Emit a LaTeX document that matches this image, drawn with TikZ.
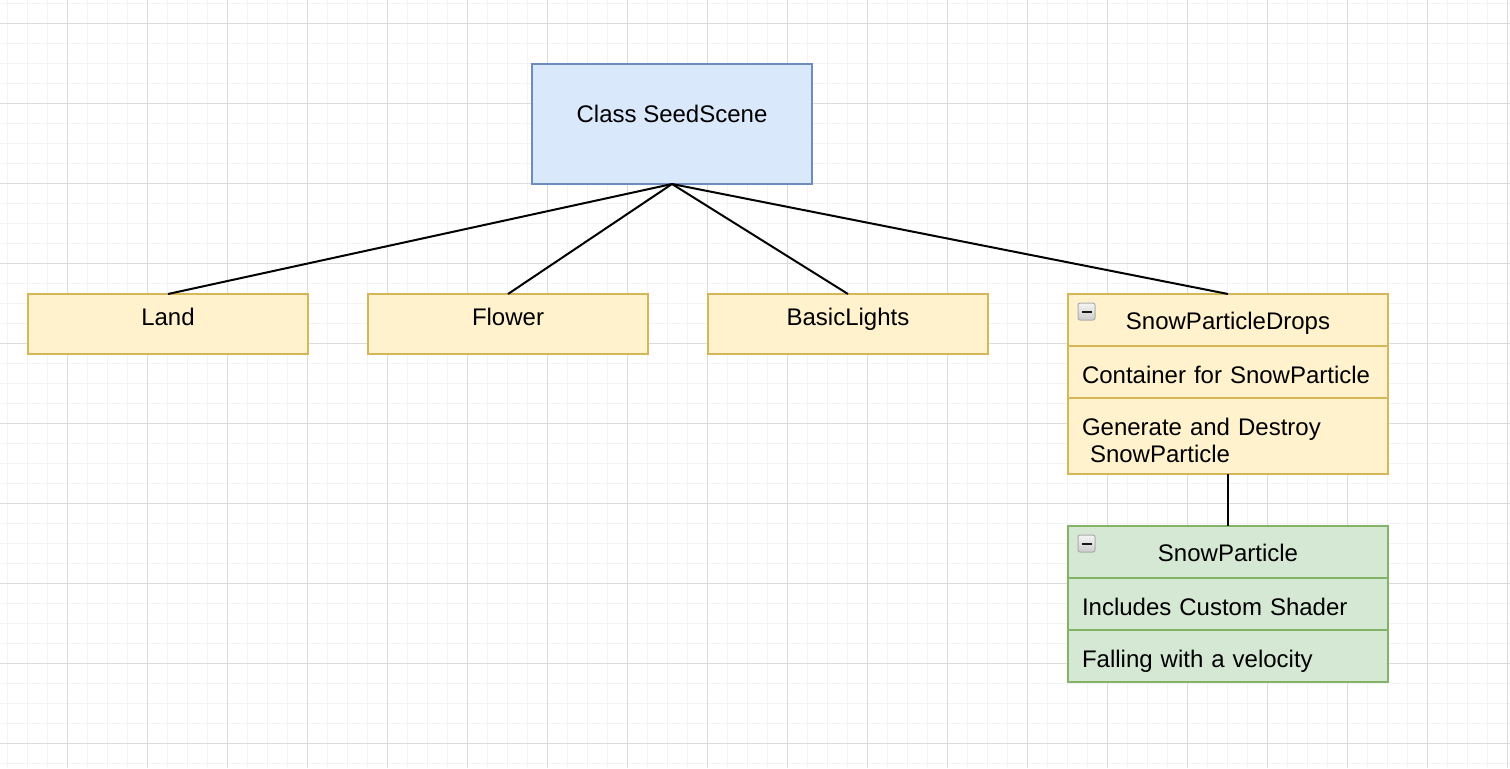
\documentclass[tikz,border=0pt]{standalone}
\usepackage{fontspec}
\setmainfont{Liberation Sans}
\usetikzlibrary{positioning}

\definecolor{sceneFill}{HTML}{DAE8FC}
\definecolor{sceneLine}{HTML}{6C8EBF}
\definecolor{partFill}{HTML}{FFF2CC}
\definecolor{partLine}{HTML}{D6B656}
\definecolor{snowFill}{HTML}{D5E8D4}
\definecolor{snowLine}{HTML}{82B366}
\definecolor{gridMinor}{HTML}{F3F3F3}
\definecolor{gridMajor}{HTML}{DCDCDC}

\tikzset{
  box/.style={line width=1.5pt,outer sep=0pt,font=\fontsize{18}{20.25}\selectfont},
  scenebox/.style={box,draw=sceneLine,fill=sceneFill,minimum width=210pt,minimum height=90pt,text height=12.9pt,text depth=15pt},
  partbox/.style={box,draw=partLine,fill=partFill,minimum width=210pt,minimum height=45pt,text height=12.9pt,text depth=11.2pt},
  umlhead/.style={box,minimum width=240pt,minimum height=39pt,text height=14.4pt,text depth=0pt},
  umlrow/.style={box,inner xsep=10.5pt,text width=219pt,align=left,minimum height=39pt,text height=16.7pt,text depth=0pt},
  link/.style={line width=1.5pt,black},
  minusicon/.style={draw=gray!65,line width=0.75pt,rounded corners=1.5pt,top color=gray!8,bottom color=gray!40}
}

\begin{document}
\begin{tikzpicture}[x=0.75pt,y=-0.75pt]
 \useasboundingbox (0,0) rectangle (1510,768);
 % background grid
 \foreach \x in {7,27,...,1507} \draw[gridMinor,line width=0.75pt] (\x,0) -- (\x,768);
 \foreach \y in {3,23,...,763} \draw[gridMinor,line width=0.75pt] (0,\y) -- (1510,\y);
 \foreach \x in {67,147,...,1507} \draw[gridMajor,line width=0.75pt] (\x,0) -- (\x,768);
 \foreach \y in {23,103,...,763} \draw[gridMajor,line width=0.75pt] (0,\y) -- (1510,\y);

 % top class
 \node[scenebox] (scene) at (672,124) {Class SeedScene};

 % children
 \node[partbox] (land) at (168,324) {Land};
 \node[partbox,right=45pt of land] (flower) {Flower};
 \node[partbox,right=45pt of flower] (lights) {BasicLights};

 \node[umlhead,draw=partLine,fill=partFill] (drops) at (1228,320) {SnowParticleDrops};
 \node[umlrow,draw=partLine,fill=partFill,below=0pt of drops] (dropsa) {Container for SnowParticle};
 \node[umlrow,draw=partLine,fill=partFill,below=0pt of dropsa,minimum height=57pt,text height=20pt,text depth=21.5pt] (dropsb) {Generate and Destroy\\~SnowParticle};

 \node[umlhead,draw=snowLine,fill=snowFill,below=39pt of dropsb] (particle) {SnowParticle};
 \node[umlrow,draw=snowLine,fill=snowFill,below=0pt of particle] (particlea) {Includes Custom Shader};
 \node[umlrow,draw=snowLine,fill=snowFill,below=0pt of particlea] (particleb) {Falling with a velocity};

 % collapse icons
 \draw[minusicon] ([shift={(10,9)}]drops.north west) rectangle ([shift={(27,26)}]drops.north west);
 \draw[gray!20!black,line width=1.5pt] ([shift={(13.5,17.5)}]drops.north west) -- ([shift={(23.5,17.5)}]drops.north west);
 \draw[minusicon] ([shift={(10,9)}]particle.north west) rectangle ([shift={(27,26)}]particle.north west);
 \draw[gray!20!black,line width=1.5pt] ([shift={(13.5,17.5)}]particle.north west) -- ([shift={(23.5,17.5)}]particle.north west);

 % connectors
 \draw[link] (scene.south) -- (land.north);
 \draw[link] (scene.south) -- (flower.north);
 \draw[link] (scene.south) -- (lights.north);
 \draw[link] (scene.south) -- (drops.north);
 \draw[link] (dropsb.south) -- (particle.north);
\end{tikzpicture}
\end{document}
